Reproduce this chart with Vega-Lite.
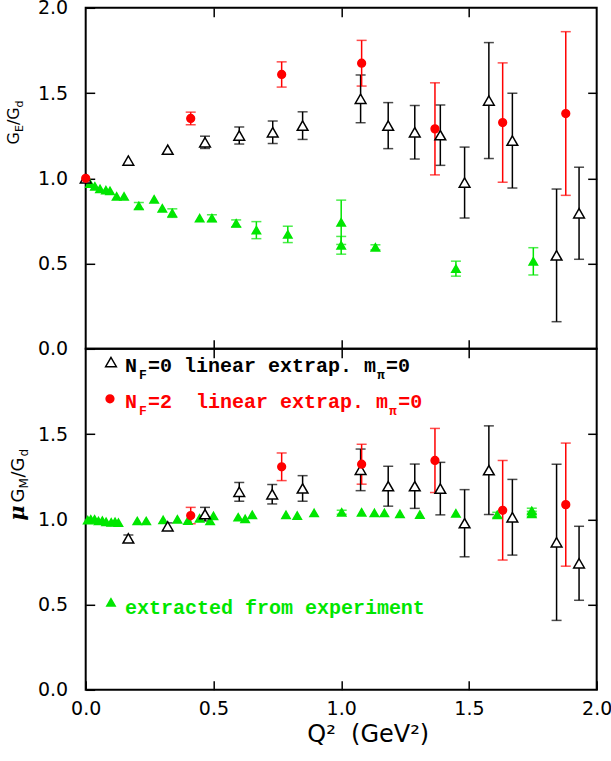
{
  "$schema": "https://vega.github.io/schema/vega-lite/v6.json",
  "background": "white",
  "padding": {"left": 4.7, "top": -2.2, "right": 5, "bottom": 5},
  "spacing": 0,
  "bounds": "flush",
  "config": {
    "view": {"stroke": "black", "strokeWidth": 2},
    "axis": {"grid": false, "domain": false, "tickColor": "black", "tickWidth": 1.5, "labelFont": "DejaVu Sans", "labelFontSize": 19, "labelColor": "black", "titleFont": "DejaVu Sans", "titleColor": "black", "titleFontWeight": "normal", "labelFlush": false, "labelOverlap": false, "minExtent": 0},
    "concat": {"spacing": 0}
  },
  "datasets": {
    "pts": [
      {"p":"E","s":"exp","q":0.017,"v":0.969,"e":0},
      {"p":"E","s":"exp","q":0.036,"v":0.953,"e":0},
      {"p":"E","s":"exp","q":0.056,"v":0.938,"e":0},
      {"p":"E","s":"exp","q":0.079,"v":0.930,"e":0},
      {"p":"E","s":"exp","q":0.095,"v":0.926,"e":0},
      {"p":"E","s":"exp","q":0.121,"v":0.894,"e":0},
      {"p":"E","s":"exp","q":0.150,"v":0.894,"e":0},
      {"p":"E","s":"exp","q":0.208,"v":0.838,"e":0.02},
      {"p":"E","s":"exp","q":0.268,"v":0.877,"e":0},
      {"p":"E","s":"exp","q":0.300,"v":0.824,"e":0},
      {"p":"E","s":"exp","q":0.339,"v":0.796,"e":0.025},
      {"p":"E","s":"exp","q":0.446,"v":0.766,"e":0},
      {"p":"E","s":"exp","q":0.494,"v":0.766,"e":0.02},
      {"p":"E","s":"exp","q":0.589,"v":0.736,"e":0.02},
      {"p":"E","s":"exp","q":0.668,"v":0.696,"e":0.05},
      {"p":"E","s":"exp","q":0.791,"v":0.671,"e":0.048},
      {"p":"E","s":"exp","q":1.0,"v":0.742,"e":0.13},
      {"p":"E","s":"exp","q":1.0,"v":0.607,"e":0.052},
      {"p":"E","s":"exp","q":1.134,"v":0.595,"e":0.015},
      {"p":"E","s":"exp","q":1.449,"v":0.470,"e":0.044},
      {"p":"E","s":"exp","q":1.752,"v":0.513,"e":0.08},
      {"p":"E","s":"N0","q":0,"v":1.0,"e":0},
      {"p":"E","s":"N0","q":0.167,"v":1.104,"e":0},
      {"p":"E","s":"N0","q":0.321,"v":1.168,"e":0},
      {"p":"E","s":"N0","q":0.467,"v":1.211,"e":0.036},
      {"p":"E","s":"N0","q":0.601,"v":1.251,"e":0.05},
      {"p":"E","s":"N0","q":0.732,"v":1.27,"e":0.066},
      {"p":"E","s":"N0","q":0.849,"v":1.309,"e":0.081},
      {"p":"E","s":"N0","q":1.076,"v":1.466,"e":0.14},
      {"p":"E","s":"N0","q":1.184,"v":1.309,"e":0.135},
      {"p":"E","s":"N0","q":1.288,"v":1.27,"e":0.157},
      {"p":"E","s":"N0","q":1.388,"v":1.253,"e":0.177},
      {"p":"E","s":"N0","q":1.483,"v":0.975,"e":0.208},
      {"p":"E","s":"N0","q":1.578,"v":1.456,"e":0.34},
      {"p":"E","s":"N0","q":1.67,"v":1.221,"e":0.278},
      {"p":"E","s":"N0","q":1.843,"v":0.548,"e":0.389},
      {"p":"E","s":"N0","q":1.931,"v":0.795,"e":0.27},
      {"p":"E","s":"N2","q":0,"v":1.0,"e":0},
      {"p":"E","s":"N2","q":0.411,"v":1.351,"e":0.037},
      {"p":"E","s":"N2","q":0.767,"v":1.609,"e":0.074},
      {"p":"E","s":"N2","q":1.08,"v":1.675,"e":0.134},
      {"p":"E","s":"N2","q":1.367,"v":1.29,"e":0.27},
      {"p":"E","s":"N2","q":1.632,"v":1.327,"e":0.35},
      {"p":"E","s":"N2","q":1.879,"v":1.38,"e":0.48},
      {"p":"M","s":"exp","q":0.008,"v":0.995,"e":0},
      {"p":"M","s":"exp","q":0.02,"v":1.0,"e":0},
      {"p":"M","s":"exp","q":0.035,"v":1.0,"e":0},
      {"p":"M","s":"exp","q":0.05,"v":0.99,"e":0},
      {"p":"M","s":"exp","q":0.065,"v":0.992,"e":0},
      {"p":"M","s":"exp","q":0.08,"v":0.985,"e":0},
      {"p":"M","s":"exp","q":0.1,"v":0.982,"e":0},
      {"p":"M","s":"exp","q":0.115,"v":0.985,"e":0},
      {"p":"M","s":"exp","q":0.128,"v":0.98,"e":0},
      {"p":"M","s":"exp","q":0.202,"v":0.99,"e":0},
      {"p":"M","s":"exp","q":0.237,"v":0.99,"e":0},
      {"p":"M","s":"exp","q":0.303,"v":0.996,"e":0},
      {"p":"M","s":"exp","q":0.359,"v":1.0,"e":0},
      {"p":"M","s":"exp","q":0.400,"v":0.992,"e":0},
      {"p":"M","s":"exp","q":0.446,"v":1.006,"e":0},
      {"p":"M","s":"exp","q":0.487,"v":0.99,"e":0},
      {"p":"M","s":"exp","q":0.5,"v":1.02,"e":0},
      {"p":"M","s":"exp","q":0.597,"v":1.012,"e":0},
      {"p":"M","s":"exp","q":0.624,"v":1.002,"e":0},
      {"p":"M","s":"exp","q":0.652,"v":1.026,"e":0},
      {"p":"M","s":"exp","q":0.784,"v":1.026,"e":0},
      {"p":"M","s":"exp","q":0.828,"v":1.022,"e":0},
      {"p":"M","s":"exp","q":0.894,"v":1.037,"e":0},
      {"p":"M","s":"exp","q":1.002,"v":1.041,"e":0.012},
      {"p":"M","s":"exp","q":1.080,"v":1.041,"e":0},
      {"p":"M","s":"exp","q":1.13,"v":1.037,"e":0},
      {"p":"M","s":"exp","q":1.169,"v":1.037,"e":0},
      {"p":"M","s":"exp","q":1.230,"v":1.032,"e":0},
      {"p":"M","s":"exp","q":1.308,"v":1.028,"e":0},
      {"p":"M","s":"exp","q":1.449,"v":1.035,"e":0},
      {"p":"M","s":"exp","q":1.611,"v":1.026,"e":0.015},
      {"p":"M","s":"exp","q":1.746,"v":1.032,"e":0.015},
      {"p":"M","s":"exp","q":1.746,"v":1.05,"e":0.015},
      {"p":"M","s":"N0","q":0.167,"v":0.888,"e":0.02},
      {"p":"M","s":"N0","q":0.321,"v":0.959,"e":0.02},
      {"p":"M","s":"N0","q":0.467,"v":1.03,"e":0.04},
      {"p":"M","s":"N0","q":0.601,"v":1.161,"e":0.055},
      {"p":"M","s":"N0","q":0.73,"v":1.147,"e":0.057},
      {"p":"M","s":"N0","q":0.849,"v":1.181,"e":0.075},
      {"p":"M","s":"N0","q":1.076,"v":1.29,"e":0.122},
      {"p":"M","s":"N0","q":1.184,"v":1.194,"e":0.117},
      {"p":"M","s":"N0","q":1.288,"v":1.194,"e":0.13},
      {"p":"M","s":"N0","q":1.388,"v":1.18,"e":0.154},
      {"p":"M","s":"N0","q":1.483,"v":0.977,"e":0.197},
      {"p":"M","s":"N0","q":1.578,"v":1.288,"e":0.26},
      {"p":"M","s":"N0","q":1.67,"v":1.012,"e":0.222},
      {"p":"M","s":"N0","q":1.843,"v":0.865,"e":0.458},
      {"p":"M","s":"N0","q":1.931,"v":0.742,"e":0.217},
      {"p":"M","s":"N2","q":0.411,"v":1.022,"e":0.048},
      {"p":"M","s":"N2","q":0.767,"v":1.308,"e":0.081},
      {"p":"M","s":"N2","q":1.08,"v":1.323,"e":0.117},
      {"p":"M","s":"N2","q":1.367,"v":1.345,"e":0.188},
      {"p":"M","s":"N2","q":1.632,"v":1.053,"e":0.292},
      {"p":"M","s":"N2","q":1.879,"v":1.086,"e":0.361}
    ],
    "lgm": [
      {"s":"N0","q":0.099,"v":1.922},
      {"s":"N2","q":0.095,"v":1.707},
      {"s":"exp","q":0.099,"v":0.513}
    ],
    "lgtMain": [
      {"s":"N0","t":"N","x":0.154,"y":1.861},
      {"s":"N0","t":"=0 linear extrap. m","x":0.244,"y":1.861},
      {"s":"N0","t":"=0","x":1.175,"y":1.861},
      {"s":"N2","t":"N","x":0.154,"y":1.650},
      {"s":"N2","t":"=2\u00a0 linear extrap. m","x":0.244,"y":1.650},
      {"s":"N2","t":"=0","x":1.223,"y":1.650},
      {"s":"exp","t":"extracted from experiment","x":0.154,"y":0.446}
    ],
    "lgtSub": [
      {"s":"N0","t":"F","x":0.209,"y":1.820},
      {"s":"N0","t":"π","x":1.140,"y":1.820},
      {"s":"N2","t":"F","x":0.209,"y":1.609},
      {"s":"N2","t":"π","x":1.187,"y":1.609}
    ],
    "ytE": [
      {"t":"G","x":-0.261,"y":1.198},
      {"t":"/G","x":-0.261,"y":1.312}
    ],
    "ytEsub": [
      {"t":"E","x":-0.245,"y":1.271},
      {"t":"d","x":-0.245,"y":1.416}
    ],
    "ytMmu": [
      {"t":"μ","x":-0.241,"y":0.992}
    ],
    "ytM": [
      {"t":"G","x":-0.241,"y":1.098},
      {"t":"/G","x":-0.241,"y":1.245}
    ],
    "ytMsub": [
      {"t":"M","x":-0.226,"y":1.180},
      {"t":"d","x":-0.226,"y":1.368}
    ]
  },
  "vconcat": [
    {
      "width": 511,
      "height": 341,
      "layer": [
        {
          "data": {"name": "pts"},
          "transform": [{"filter": "datum.p === 'E' && datum.e > 0"}],
          "mark": {"type": "errorbar", "ticks": {"size": 10}, "thickness": 1.5},
          "encoding": {
            "x": {"field": "q", "type": "quantitative", "scale": {"domain": [0, 2]}, "axis": {"orient": "top", "labels": false, "values": [0.5, 1, 1.5], "tickSize": -9, "title": null}},
            "y": {"field": "v", "type": "quantitative", "scale": {"domain": [0, 2]}, "axis": {"orient": "right", "labels": false, "values": [0.5, 1, 1.5], "tickSize": -9, "title": null}},
            "yError": {"field": "e"},
            "color": {"field": "s", "type": "nominal", "scale": {"domain": ["exp", "N0", "N2"], "range": ["#00e600", "#000000", "#ff0000"]}, "legend": null}
          }
        },
        {
          "data": {"name": "pts"},
          "transform": [{"filter": "datum.p === 'E'"}],
          "mark": {"type": "point", "filled": true, "strokeWidth": 1.5, "opacity": 1},
          "encoding": {
            "x": {"field": "q", "type": "quantitative", "scale": {"domain": [0, 2]}, "axis": {"orient": "bottom", "labels": false, "values": [0.5, 1, 1.5], "tickSize": -9, "title": null}},
            "y": {"field": "v", "type": "quantitative", "scale": {"domain": [0, 2]}, "axis": {"orient": "left", "values": [0, 0.5, 1, 1.5, 2], "format": ".1f", "tickSize": -9, "labelPadding": 27, "title": null}},
            "shape": {"field": "s", "type": "nominal", "scale": {"domain": ["exp", "N0", "N2"], "range": ["triangle-up", "triangle-up", "circle"]}, "legend": null},
            "fill": {"field": "s", "type": "nominal", "scale": {"domain": ["exp", "N0", "N2"], "range": ["#00e600", "#ffffff", "#ff0000"]}, "legend": null},
            "stroke": {"field": "s", "type": "nominal", "scale": {"domain": ["exp", "N0", "N2"], "range": ["#00e600", "#000000", "#ff0000"]}, "legend": null},
            "size": {"field": "s", "type": "nominal", "scale": {"type": "ordinal", "domain": ["exp", "N0", "N2"], "range": [70, 115, 60]}, "legend": null}
          }
        },
        {
          "data": {"name": "ytE"},
          "mark": {"type": "text", "angle": 270, "align": "left", "baseline": "alphabetic", "font": "DejaVu Sans", "fontSize": 16, "color": "black"},
          "encoding": {
            "x": {"field": "x", "type": "quantitative", "scale": {"domain": [0, 2]}, "axis": null},
            "y": {"field": "y", "type": "quantitative", "scale": {"domain": [0, 2]}, "axis": null},
            "text": {"field": "t"}
          }
        },
        {
          "data": {"name": "ytEsub"},
          "mark": {"type": "text", "angle": 270, "align": "left", "baseline": "alphabetic", "font": "DejaVu Sans", "fontSize": 11, "color": "black"},
          "encoding": {
            "x": {"field": "x", "type": "quantitative", "scale": {"domain": [0, 2]}, "axis": null},
            "y": {"field": "y", "type": "quantitative", "scale": {"domain": [0, 2]}, "axis": null},
            "text": {"field": "t"}
          }
        }
      ]
    },
    {
      "width": 511,
      "height": 341,
      "layer": [
        {
          "data": {"name": "pts"},
          "transform": [{"filter": "datum.p === 'M' && datum.e > 0"}],
          "mark": {"type": "errorbar", "ticks": {"size": 10}, "thickness": 1.5},
          "encoding": {
            "x": {"field": "q", "type": "quantitative", "scale": {"domain": [0, 2]}, "axis": {"orient": "top", "labels": false, "values": [0.5, 1, 1.5], "tickSize": -9, "title": null}},
            "y": {"field": "v", "type": "quantitative", "scale": {"domain": [0, 2]}, "axis": {"orient": "right", "labels": false, "values": [0.5, 1, 1.5], "tickSize": -9, "title": null}},
            "yError": {"field": "e"},
            "color": {"field": "s", "type": "nominal", "scale": {"domain": ["exp", "N0", "N2"], "range": ["#00e600", "#000000", "#ff0000"]}, "legend": null}
          }
        },
        {
          "data": {"name": "pts"},
          "transform": [{"filter": "datum.p === 'M'"}],
          "mark": {"type": "point", "filled": true, "strokeWidth": 1.5, "opacity": 1},
          "encoding": {
            "x": {"field": "q", "type": "quantitative", "scale": {"domain": [0, 2]}, "axis": {"orient": "bottom", "values": [0, 0.5, 1, 1.5, 2], "format": ".1f", "tickSize": -9, "labelPadding": 19, "title": "Q²\u00a0 (GeV²)", "titleFontSize": 24, "titlePadding": 4, "titleX": 282}},
            "y": {"field": "v", "type": "quantitative", "scale": {"domain": [0, 2]}, "axis": {"orient": "left", "values": [0, 0.5, 1, 1.5], "format": ".1f", "tickSize": -9, "labelPadding": 27, "title": null}},
            "shape": {"field": "s", "type": "nominal", "scale": {"domain": ["exp", "N0", "N2"], "range": ["triangle-up", "triangle-up", "circle"]}, "legend": null},
            "fill": {"field": "s", "type": "nominal", "scale": {"domain": ["exp", "N0", "N2"], "range": ["#00e600", "#ffffff", "#ff0000"]}, "legend": null},
            "stroke": {"field": "s", "type": "nominal", "scale": {"domain": ["exp", "N0", "N2"], "range": ["#00e600", "#000000", "#ff0000"]}, "legend": null},
            "size": {"field": "s", "type": "nominal", "scale": {"type": "ordinal", "domain": ["exp", "N0", "N2"], "range": [70, 115, 60]}, "legend": null}
          }
        },
        {
          "data": {"name": "lgm"},
          "mark": {"type": "point", "filled": true, "strokeWidth": 1.5, "opacity": 1},
          "encoding": {
            "x": {"field": "q", "type": "quantitative", "scale": {"domain": [0, 2]}, "axis": null},
            "y": {"field": "v", "type": "quantitative", "scale": {"domain": [0, 2]}, "axis": null},
            "shape": {"field": "s", "type": "nominal", "scale": {"domain": ["exp", "N0", "N2"], "range": ["triangle-up", "triangle-up", "circle"]}, "legend": null},
            "fill": {"field": "s", "type": "nominal", "scale": {"domain": ["exp", "N0", "N2"], "range": ["#00e600", "#ffffff", "#ff0000"]}, "legend": null},
            "stroke": {"field": "s", "type": "nominal", "scale": {"domain": ["exp", "N0", "N2"], "range": ["#00e600", "#000000", "#ff0000"]}, "legend": null},
            "size": {"field": "s", "type": "nominal", "scale": {"type": "ordinal", "domain": ["exp", "N0", "N2"], "range": [70, 115, 60]}, "legend": null}
          }
        },
        {
          "data": {"name": "lgtMain"},
          "mark": {"type": "text", "align": "left", "baseline": "alphabetic", "font": "Liberation Mono", "fontWeight": "bold", "fontSize": 20},
          "encoding": {
            "x": {"field": "x", "type": "quantitative", "scale": {"domain": [0, 2]}, "axis": null},
            "y": {"field": "y", "type": "quantitative", "scale": {"domain": [0, 2]}, "axis": null},
            "text": {"field": "t"},
            "color": {"field": "s", "type": "nominal", "scale": {"domain": ["exp", "N0", "N2"], "range": ["#00e600", "#000000", "#ff0000"]}, "legend": null}
          }
        },
        {
          "data": {"name": "lgtSub"},
          "mark": {"type": "text", "align": "left", "baseline": "alphabetic", "font": "Liberation Mono", "fontWeight": "bold", "fontSize": 13},
          "encoding": {
            "x": {"field": "x", "type": "quantitative", "scale": {"domain": [0, 2]}, "axis": null},
            "y": {"field": "y", "type": "quantitative", "scale": {"domain": [0, 2]}, "axis": null},
            "text": {"field": "t"},
            "color": {"field": "s", "type": "nominal", "scale": {"domain": ["exp", "N0", "N2"], "range": ["#00e600", "#000000", "#ff0000"]}, "legend": null}
          }
        },
        {
          "data": {"name": "ytMmu"},
          "mark": {"type": "text", "angle": 270, "align": "left", "baseline": "alphabetic", "font": "DejaVu Serif", "fontStyle": "italic", "fontWeight": "bold", "fontSize": 21, "color": "black"},
          "encoding": {
            "x": {"field": "x", "type": "quantitative", "scale": {"domain": [0, 2]}, "axis": null},
            "y": {"field": "y", "type": "quantitative", "scale": {"domain": [0, 2]}, "axis": null},
            "text": {"field": "t"}
          }
        },
        {
          "data": {"name": "ytM"},
          "mark": {"type": "text", "angle": 270, "align": "left", "baseline": "alphabetic", "font": "DejaVu Sans", "fontSize": 18, "color": "black"},
          "encoding": {
            "x": {"field": "x", "type": "quantitative", "scale": {"domain": [0, 2]}, "axis": null},
            "y": {"field": "y", "type": "quantitative", "scale": {"domain": [0, 2]}, "axis": null},
            "text": {"field": "t"}
          }
        },
        {
          "data": {"name": "ytMsub"},
          "mark": {"type": "text", "angle": 270, "align": "left", "baseline": "alphabetic", "font": "DejaVu Sans", "fontSize": 12, "color": "black"},
          "encoding": {
            "x": {"field": "x", "type": "quantitative", "scale": {"domain": [0, 2]}, "axis": null},
            "y": {"field": "y", "type": "quantitative", "scale": {"domain": [0, 2]}, "axis": null},
            "text": {"field": "t"}
          }
        }
      ]
    }
  ]
}
